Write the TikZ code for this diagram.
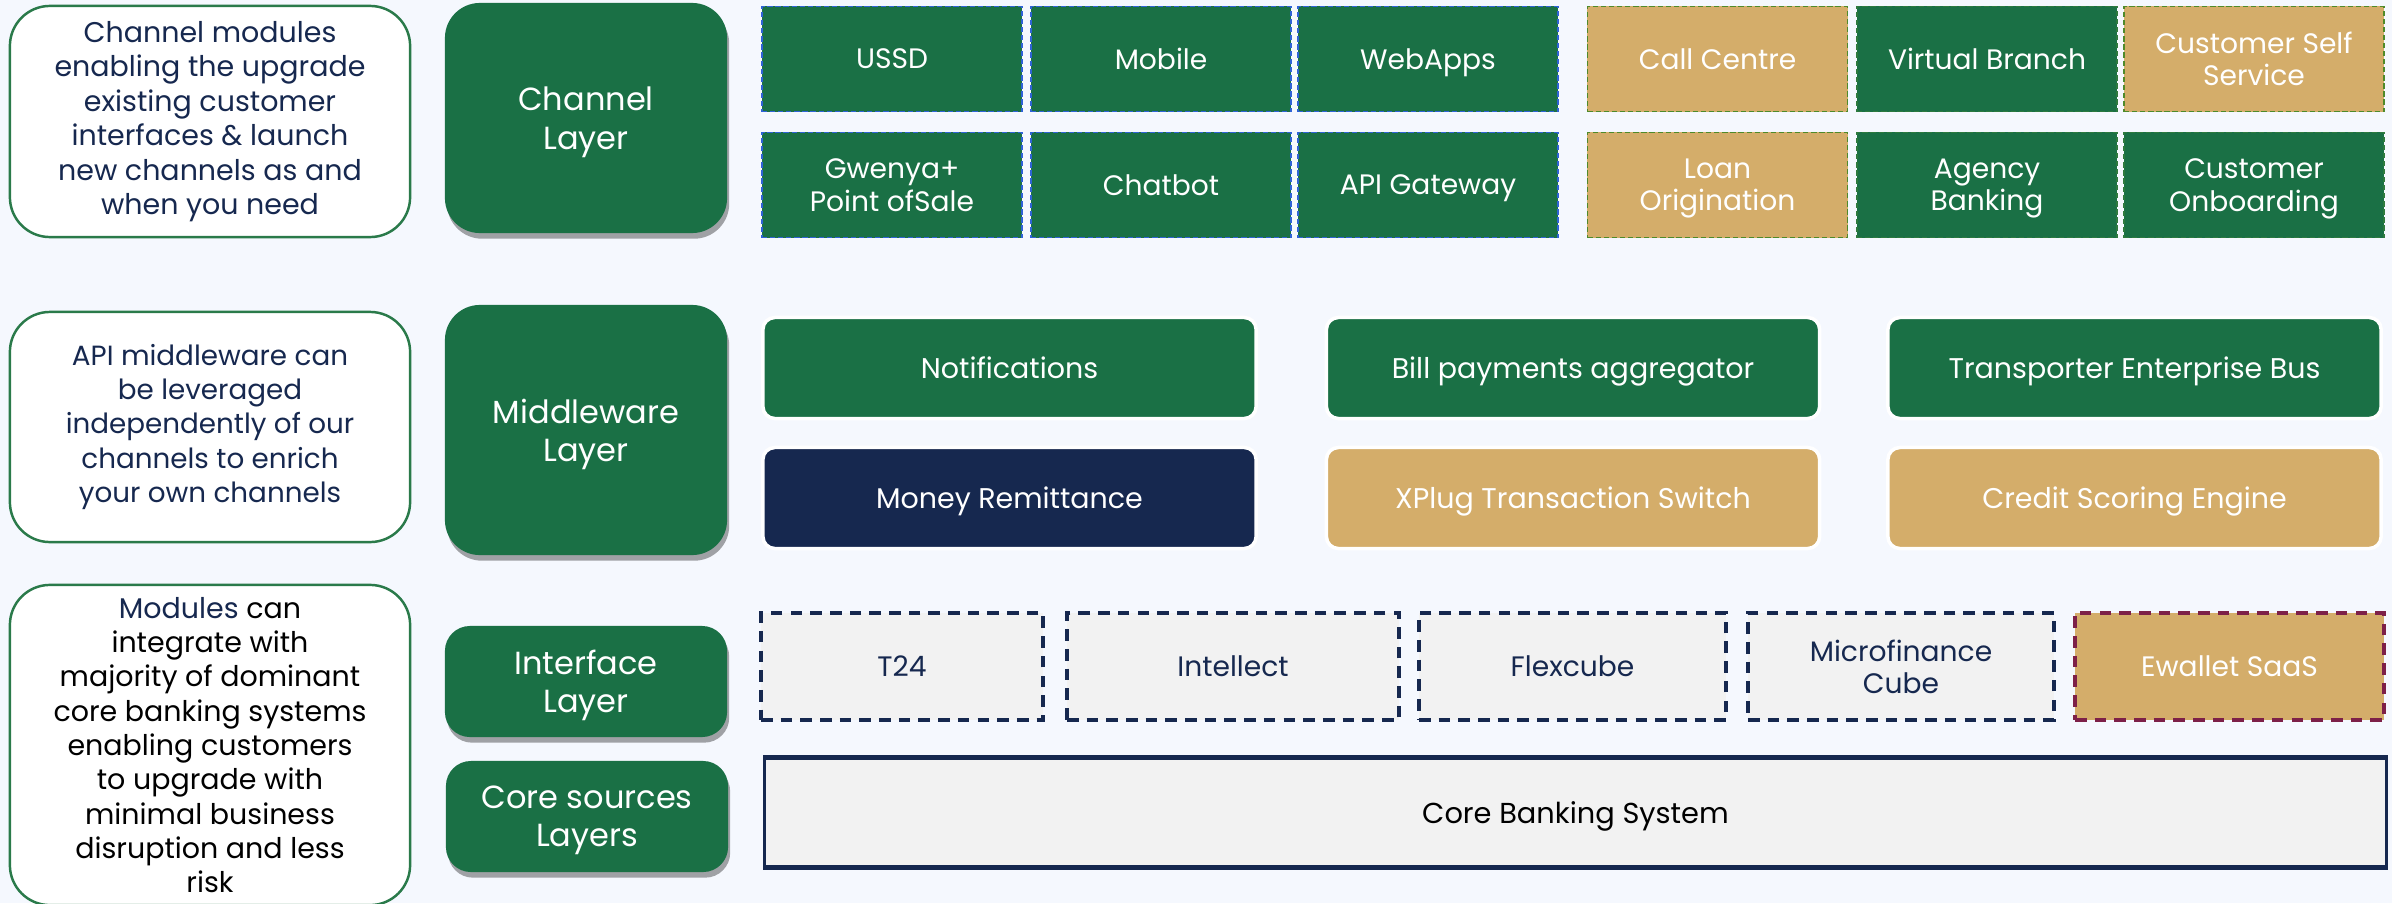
\documentclass[tikz,border=0pt]{standalone}
\usepackage{fontspec}
\setmainfont{Poppins}
\usetikzlibrary{shadows}
\definecolor{bg}{HTML}{F5F8FE}
\definecolor{dgreen}{HTML}{1A7045}
\definecolor{tan}{HTML}{D4AD6A}
\definecolor{navy}{HTML}{16284F}
\definecolor{lgrey}{HTML}{F2F2F2}
\definecolor{bluedash}{HTML}{2F63D6}
\definecolor{olivedash}{HTML}{4F8A2A}
\definecolor{gdash}{HTML}{2E7A3E}
\definecolor{maroon}{HTML}{7D2048}
\definecolor{boxline}{HTML}{2A7A4A}
\begin{document}
\begin{tikzpicture}[x=0.01cm,y=-0.01cm,
  desc/.style={draw=boxline, line width=0.7pt, fill=white, rounded corners=0.4cm,
    align=center, text=navy, font=\fontsize{8.1}{9.8}\selectfont,
    minimum width=4cm, inner sep=0pt},
  layer/.style={fill=dgreen, rounded corners=0.35cm, text=white, align=center,
    font=\fontsize{9.1}{10.9}\selectfont, minimum width=2.82cm, inner sep=0pt, text depth=0pt,
    drop shadow={shadow xshift=0.6pt, shadow yshift=-1.6pt, fill=black, opacity=0.35}},
  smalllayer/.style={layer, rounded corners=0.25cm},
  ctile/.style={fill=dgreen, text=white, align=center,
    font=\fontsize{8.0}{9.2}\selectfont, minimum width=2.6cm, minimum height=1.05cm,
    inner sep=0pt, text depth=0pt, draw=bluedash, dash pattern=on 1.5pt off 0.8pt, line width=0.5pt},
  ttile/.style={ctile, fill=tan, draw=olivedash},
  gtile/.style={ctile, draw=gdash},
  mw/.style={rounded corners=0.12cm, draw=white, line width=1pt, text=white,
    font=\fontsize{8.1}{9.4}\selectfont, minimum width=4.93cm, minimum height=1.01cm,
    inner sep=0pt, text depth=0pt},
  iface/.style={fill=lgrey, draw=navy, line width=1.2pt, dash pattern=on 3.3pt off 2.3pt,
    text=navy, align=center, font=\fontsize{8.0}{9.2}\selectfont,
    minimum height=1.07cm, inner sep=0pt, text depth=0pt}
]
\useasboundingbox (0,0) rectangle (2392,903);
\clip (0,0) rectangle (2392,903);
\fill[bg] (0,0) rectangle (2392,903);

% description boxes
\node[desc, minimum height=2.31cm] (d1) at (210,121.5)
  {Channel modules\\enabling the upgrade\\existing customer\\interfaces \& launch\\new channels as and\\when you need};
\node[desc, minimum height=2.30cm, font=\fontsize{7.9}{9.8}\selectfont] (d2) at (210,427)
  {API middleware can\\be leveraged\\independently of our\\channels to enrich\\your own channels};
\node[desc, minimum height=3.20cm, text=black, font=\fontsize{8.1}{9.75}\selectfont] (d3) at (210,745)
  {\textcolor{navy}{Modules} can\\integrate with\\majority of dominant\\core banking systems\\enabling customers\\to upgrade with\\minimal business\\disruption and less\\risk};

% layer boxes
\node[layer, minimum height=2.30cm] (l1) at (586,118) {Channel\\Layer};
\node[layer, minimum height=2.50cm] (l2) at (586,430) {Middleware\\Layer};
\node[smalllayer, minimum height=1.11cm] (l3) at (586,681.5) {Interface\\Layer};
\node[smalllayer, minimum height=1.11cm] (l4) at (587,816.5) {Core sources\\Layers};

% channel tiles
\node[ctile] (ussd) at (892,59) {USSD};
\node[ctile] (mobile) at (1161,59) {Mobile};
\node[ctile] (web) at (1428,59) {WebApps};
\node[ttile] (call) at (1717.5,59) {Call Centre};
\node[gtile] (vb) at (1987,59) {Virtual Branch};
\node[ttile] (css) at (2254,59) {Customer Self\\Service};
\node[ctile] (pos) at (892,185) {Gwenya+\\Point ofSale};
\node[ctile] (chat) at (1161,185) {Chatbot};
\node[ctile] (api) at (1428,185) {API Gateway};
\node[ttile] (loan) at (1717.5,185) {Loan\\Origination};
\node[gtile] (agency) at (1987,185) {Agency\\Banking};
\node[gtile] (onb) at (2254,185) {Customer\\Onboarding};

% middleware tiles
\node[mw, fill=dgreen] (notif) at (1009.5,368) {Notifications};
\node[mw, fill=dgreen] (bill) at (1573,368) {Bill payments aggregator};
\node[mw, fill=dgreen] (bus) at (2134.5,368) {Transporter Enterprise Bus};
\node[mw, fill=navy] (remit) at (1009.5,498) {Money Remittance};
\node[mw, fill=tan] (xplug) at (1573,498) {XPlug Transaction Switch};
\node[mw, fill=tan] (credit) at (2134.5,498) {Credit Scoring Engine};

% interface tiles
\node[iface, minimum width=2.82cm] (t24) at (902,666.5) {T24};
\node[iface, minimum width=3.32cm] (intellect) at (1233,666.5) {Intellect};
\node[iface, minimum width=3.07cm] (flex) at (1572.5,666.5) {Flexcube};
\node[iface, minimum width=3.06cm] (micro) at (1901,666.5) {Microfinance\\Cube};
\node[iface, minimum width=3.09cm, fill=tan, draw=maroon, text=white] (ewallet) at (2229.5,666.5) {Ewallet SaaS};

% core banking system
\node[fill=lgrey, draw=navy, line width=0.6pt, minimum width=16.21cm, minimum height=1.07cm,
  inner sep=0pt, text depth=0pt, text=black, font=\fontsize{8.2}{9.4}\selectfont] (cbs) at (1575.5,812.5) {Core Banking System};
\draw[navy, line width=1.4pt] (cbs.north west) -- (cbs.north east);
\draw[navy, line width=1.4pt] (cbs.south west) -- (cbs.south east);
\end{tikzpicture}
\end{document}
